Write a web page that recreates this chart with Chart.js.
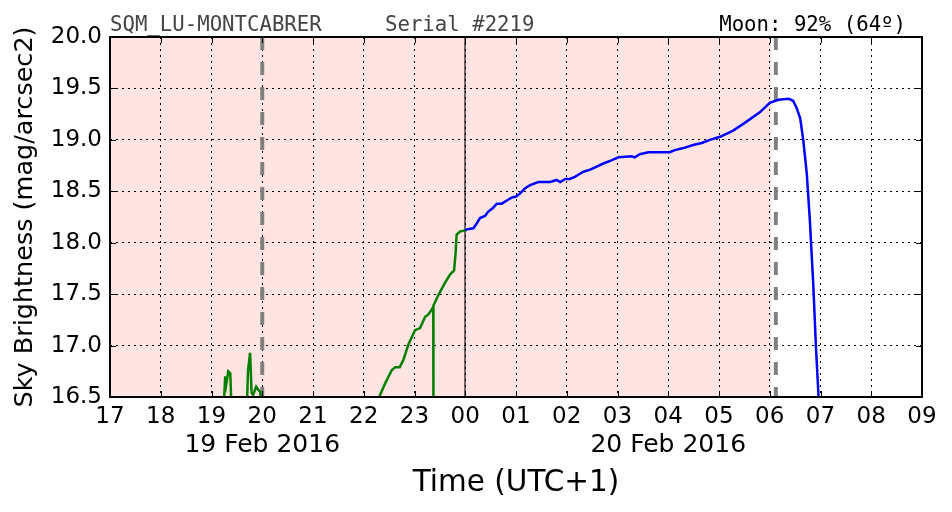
<!DOCTYPE html>
<html><head><meta charset="utf-8">
<script src="https://cdn.jsdelivr.net/npm/chart.js@4/dist/chart.umd.min.js"></script>
<style>html,body{margin:0;padding:0;background:#fff}#wrap{width:952px;height:512px}</style>
</head><body><div id="wrap"><canvas id="c" width="952" height="512"></canvas></div>
<script>
// ---- data ----
const hourLabels = ['17','18','19','20','21','22','23','00','01','02','03','04','05','06','07','08','09'];
const dateLabelHours = [20, 28];
const dateLabels = ['19 Feb 2016', '20 Feb 2016'];
const yTickValues = [16.5, 17.0, 17.5, 18.0, 18.5, 19.0, 19.5, 20.0];

const eveningHours = [19.23, 19.27, 19.29, 19.33, 19.37, 19.40, 19.69, 19.72, 19.76, 19.79, 19.82, 19.88, 19.92, 19.96, 19.99];
const eveningMags  = [16.30, 16.70, 16.62, 16.75, 16.73, 16.30, 16.30, 16.76, 16.93, 16.54, 16.52, 16.60, 16.57, 16.55, 16.30];

const duskHours = [22.30, 22.32, 22.42, 22.55, 22.62, 22.71, 22.78, 22.88, 23.01, 23.11, 23.21, 23.27, 23.34, 23.37, 23.372, 23.375, 23.47, 23.60, 23.70, 23.78, 23.81, 23.83, 23.90, 24.00];
const duskMags  = [16.40, 16.52, 16.63, 16.76, 16.79, 16.79, 16.86, 17.01, 17.15, 17.17, 17.28, 17.30, 17.35, 17.38, 16.00, 17.39, 17.49, 17.61, 17.69, 17.73, 17.90, 18.08, 18.11, 18.12];

const nightHours = [24.00, 24.03, 24.16, 24.23, 24.29, 24.39, 24.45, 24.55, 24.62, 24.72, 24.82, 24.92, 25.01, 25.08, 25.18, 25.28, 25.44, 25.67, 25.80, 25.87, 25.97, 26.06, 26.16, 26.26, 26.33, 26.46, 26.59, 26.72, 26.88, 27.02, 27.28, 27.34, 27.44, 27.61, 28.03, 28.13, 28.30, 28.49, 28.66, 28.82, 29.02, 29.28, 29.55, 29.81, 30.00, 30.17, 30.37, 30.46, 30.53, 30.60, 30.66, 30.73, 30.79, 30.86, 30.91, 30.96, 30.98];
const nightMags  = [18.12, 18.13, 18.14, 18.19, 18.24, 18.26, 18.30, 18.34, 18.38, 18.38, 18.41, 18.44, 18.45, 18.48, 18.53, 18.56, 18.59, 18.59, 18.61, 18.59, 18.62, 18.62, 18.64, 18.67, 18.69, 18.71, 18.74, 18.77, 18.80, 18.83, 18.84, 18.83, 18.86, 18.88, 18.88, 18.90, 18.92, 18.95, 18.97, 19.00, 19.03, 19.09, 19.18, 19.27, 19.36, 19.39, 19.40, 19.38, 19.31, 19.21, 19.00, 18.67, 18.22, 17.57, 16.99, 16.52, 16.30];

const moonShadeHours = [17, 30.03];
const astroDarkHours = [20.0, 30.12];
const midnightHour = [24];

const titleLeft = 'SQM_LU-MONTCABRER';
const titleMid = 'Serial #2219';
const titleRight = 'Moon: 92% (64º)';

// ---- build ----
const pts = (xs, ys) => xs.map((h, i) => ({x: h, y: ys[i]}));

const deco = {
  id: 'deco',
  beforeDraw(chart) {
    const {ctx, chartArea: a, scales: {x}} = chart;
    ctx.save();
    ctx.fillStyle = '#fff';
    ctx.fillRect(0, 0, chart.width, chart.height);
    ctx.fillStyle = '#ffe4e1';
    const x0 = x.getPixelForValue(moonShadeHours[0]), x1 = x.getPixelForValue(moonShadeHours[1]);
    ctx.fillRect(x0, a.top, x1 - x0, a.bottom - a.top);
    ctx.restore();
  },
  beforeDatasetsDraw(chart) {
    const {ctx, chartArea: a, scales: {x}} = chart;
    ctx.save();
    ctx.strokeStyle = 'rgba(0,0,0,0.55)';
    ctx.lineWidth = 2;
    midnightHour.forEach(h => {
      const px = Math.round(x.getPixelForValue(h));
      ctx.beginPath(); ctx.moveTo(px, a.top); ctx.lineTo(px, a.bottom); ctx.stroke();
    });
    ctx.strokeStyle = '#808080';
    ctx.lineWidth = 4;
    ctx.setLineDash([13, 12]);
    astroDarkHours.forEach(h => {
      const px = x.getPixelForValue(h);
      ctx.beginPath(); ctx.moveTo(px, a.top); ctx.lineTo(px, a.bottom); ctx.stroke();
    });
    ctx.restore();
  },
  afterDraw(chart) {
    const {ctx, chartArea: a, scales: {x, y}} = chart;
    ctx.save();
    ctx.strokeStyle = '#000';
    ctx.lineWidth = 1;
    const tl = 6;
    ctx.beginPath();
    for (let h = 17; h <= 33; h++) {
      const px = Math.round(x.getPixelForValue(h)) + 0.5;
      ctx.moveTo(px, a.bottom); ctx.lineTo(px, a.bottom - tl);
      ctx.moveTo(px, a.top); ctx.lineTo(px, a.top + tl);
    }
    yTickValues.forEach(v => {
      const py = Math.round(y.getPixelForValue(v)) + 0.5;
      ctx.moveTo(a.left, py); ctx.lineTo(a.left + tl, py);
      ctx.moveTo(a.right, py); ctx.lineTo(a.right - tl, py);
    });
    ctx.stroke();
    ctx.lineWidth = 2;
    ctx.strokeRect(a.left, a.top, a.right - a.left, a.bottom - a.top);
    // date labels under hour ticks
    ctx.fillStyle = '#000';
    ctx.font = '25px "DejaVu Sans"';
    ctx.textAlign = 'center';
    ctx.textBaseline = 'alphabetic';
    dateLabelHours.forEach((h, i) => ctx.fillText(dateLabels[i], x.getPixelForValue(h), 452));
    // header
    ctx.font = '20.7px "DejaVu Sans Mono"';
    ctx.fillStyle = '#444';
    ctx.textAlign = 'left';
    ctx.fillText(titleLeft, 110, 31);
    ctx.fillText(titleMid, 385, 31);
    ctx.fillStyle = '#000';
    ctx.textAlign = 'right';
    ctx.fillText(titleRight, 906, 31);
    ctx.restore();
  }
};

new Chart(document.getElementById('c'), {
  type: 'line',
  data: {
    datasets: [
      {data: pts(eveningHours, eveningMags), borderColor: '#008000', borderWidth: 2.5},
      {data: pts(duskHours, duskMags), borderColor: '#008000', borderWidth: 2.5},
      {data: pts(nightHours, nightMags), borderColor: '#0000ff', borderWidth: 2.5}
    ]
  },
  options: {
    responsive: false,
    animation: false,
    events: [],
    elements: {point: {radius: 0}, line: {tension: 0, fill: false}},
    layout: {padding: {top: 37, right: 30, bottom: 0, left: 0}},
    plugins: {legend: {display: false}, tooltip: {enabled: false}},
    scales: {
      x: {
        type: 'linear', min: 17, max: 33,
        afterFit: s => { s.height = 115; },
        ticks: {
          stepSize: 1, autoSkip: false, maxRotation: 0, padding: 6, color: '#000',
          font: {family: 'DejaVu Sans', size: 23},
          callback: v => hourLabels[Math.round(v) - 17]
        },
        grid: {color: '#000', lineWidth: 1, drawTicks: false},
        border: {display: false, dash: [2, 4]},
        title: {display: true, text: 'Time (UTC+1)', color: '#000', font: {family: 'DejaVu Sans', size: 29.5}, padding: {top: 0, bottom: 11}}
      },
      y: {
        type: 'linear', min: 16.5, max: 20,
        afterFit: s => { s.width = 110; },
        afterBuildTicks: s => { s.ticks = yTickValues.map(v => ({value: v})); },
        ticks: {padding: 8, color: '#000', font: {family: 'DejaVu Sans', size: 23}, callback: v => v.toFixed(1)},
        grid: {color: '#000', lineWidth: 1, drawTicks: false},
        border: {display: false, dash: [2, 4]},
        title: {display: true, text: 'Sky Brightness (mag/arcsec2)', color: '#000', font: {family: 'DejaVu Sans', size: 25.5}, padding: {top: 10, bottom: 0}}
      }
    }
  },
  plugins: [deco]
});
</script></body></html>
